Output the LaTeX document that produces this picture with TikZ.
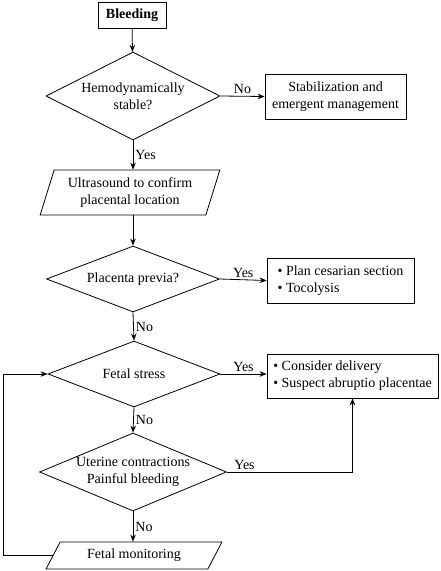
\documentclass[tikz,border=0pt]{standalone}
\usepackage{fontspec}
\setmainfont{Liberation Serif}
\usetikzlibrary{shapes.geometric,arrows.meta}
\begin{document}
\begin{tikzpicture}[x=1pt,y=-1pt,
  font=\fontsize{14}{17}\selectfont,
  every path/.style={line width=0.8pt},
  box/.style={draw,rectangle,inner sep=0pt,align=center},
  lbox/.style={draw,rectangle,inner sep=0pt,align=left},
  decision/.style={draw,diamond,aspect=2,inner sep=0pt,align=center},
  io/.style={draw,trapezium,trapezium stretches=true,inner sep=0pt,align=center},
  arr/.style={-{Stealth[length=7pt,width=5.5pt]}},
  lab/.style={inner sep=2pt}]
\useasboundingbox (0,0) rectangle (440,571);
\node[box,minimum width=68,minimum height=26,font=\fontsize{14}{17}\selectfont\bfseries] (bleed) at (132,15) {Bleeding};
\node[decision,minimum width=174,minimum height=88] (d1) at (133,96) {Hemodynamically\\stable?};
\node[box,minimum width=141,minimum height=45] (stab) at (335.5,96.5) {Stabilization and\\emergent management};
\node[io,trapezium left angle=69,trapezium right angle=111,minimum width=180,minimum height=45] (p1) at (130,192.5) {Ultrasound to confirm\\placental location};
\node[decision,minimum width=173,minimum height=66] (d2) at (133,279) {Placenta previa?};
\node[lbox,minimum width=147,minimum height=45] (b2) at (340.5,280.5) {\textbullet\ Plan cesarian section\\\textbullet\ Tocolysis};
\node[decision,minimum width=172,minimum height=66] (d3) at (134,374) {Fetal stress};
\node[lbox,minimum width=171,minimum height=44] (b3) at (352.5,376) {\textbullet\ Consider delivery\\\textbullet\ Suspect abruptio placentae};
\node[decision,aspect=2.4,minimum width=187,minimum height=78] (d4) at (133,472) {Uterine contractions\\Painful bleeding};
\node[io,trapezium left angle=55,trapezium right angle=125,minimum width=176,minimum height=27] (p2) at (134,555.5) {Fetal monitoring};
\coordinate (loopx) at (3,0);

\draw[arr] (bleed) -- (d1);
\draw[arr] (d1.east) -- node[lab,above] {No} (stab.west);
\draw[arr] (d1.south) -- node[lab,right] {Yes} (p1.north -| d1.south);
\draw[arr] (p1.south -| d2.north) -- (d2.north);
\draw[arr] (d2.east) -- node[lab,above] {Yes} (b2.west);
\draw[arr] (d2.south) -- node[lab,right] {No} (d3.north);
\draw[arr] (d3.east) -- node[lab,above] {Yes} (b3.west |- d3.east);
\draw[arr] (d3.south) -- node[lab,right] {No} (d4.north);
\draw[arr] (d4.east) -| node[lab,above,pos=0.07] {Yes} (b3.south);
\draw[arr] (d4.south) -- node[lab,right] {No} (p2.north -| d4.south);
\draw[arr] (p2.west) -- (p2.west -| loopx) |- (d3.west);
\end{tikzpicture}
\end{document}
